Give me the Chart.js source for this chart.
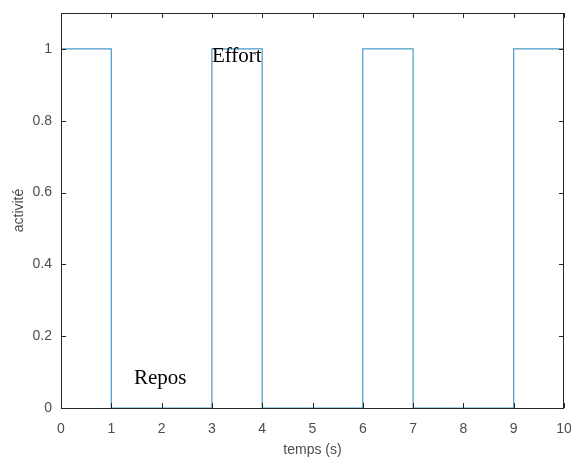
<!DOCTYPE html>
<html>
<head>
<meta charset="utf-8">
<script src="https://cdn.jsdelivr.net/npm/chart.js@4/dist/chart.umd.min.js"></script>
<style>
  html, body { margin: 0; padding: 0; background: #fff; }
  #wrap { width: 571px; height: 457px; }
</style>
</head>
<body>
<div id="wrap"><canvas id="chart" width="571" height="457"></canvas></div>
<script>
// step signal: value holds from each time until the next one
const stepTimes = [0, 1, 3, 4, 6, 7, 9, 10];
const stepValues = [1, 0, 1, 0, 1, 0, 1, 1];
const xTicks = [0, 1, 2, 3, 4, 5, 6, 7, 8, 9, 10];
const yTicks = [0, 0.2, 0.4, 0.6, 0.8, 1];
// text labels placed in data coordinates
const noteTexts = ['Effort', 'Repos'];
const noteX = [3, 1.45];
const noteY = [0.98, 0.083];

const axisColor = '#262626';
const labelColor = '#4d4d4d';

// box round the plot, inward ticks and the text notes
const matlabAxes = {
  id: 'matlabAxes',
  afterDatasetsDraw(chart) {
    const { ctx, chartArea: a, scales } = chart;
    ctx.save();
    ctx.strokeStyle = axisColor;
    ctx.lineWidth = 1;
    ctx.strokeRect(a.left + 0.5, a.top + 0.5, a.right - a.left - 1, a.bottom - a.top);
    ctx.beginPath();
    xTicks.forEach(v => {
      const px = Math.round(scales.x.getPixelForValue(v)) + 0.5;
      ctx.moveTo(px, a.bottom); ctx.lineTo(px, a.bottom - 5);
      ctx.moveTo(px, a.top); ctx.lineTo(px, a.top + 5);
    });
    yTicks.forEach(v => {
      const py = Math.round(scales.y.getPixelForValue(v)) + 0.5;
      ctx.moveTo(a.left, py); ctx.lineTo(a.left + 5, py);
      ctx.moveTo(a.right, py); ctx.lineTo(a.right - 5, py);
    });
    ctx.stroke();

    ctx.fillStyle = '#000';
    ctx.font = '21px "Liberation Serif", "Times New Roman", serif';
    ctx.textAlign = 'left';
    ctx.textBaseline = 'middle';
    noteTexts.forEach((t, i) => {
      ctx.fillText(t, scales.x.getPixelForValue(noteX[i]), scales.y.getPixelForValue(noteY[i]));
    });
    ctx.restore();
  }
};

new Chart(document.getElementById('chart'), {
  type: 'line',
  data: {
    datasets: [{
      data: stepTimes.map((t, i) => ({ x: t, y: stepValues[i] })),
      stepped: 'before',
      borderColor: '#4a9bc9',
      borderWidth: 1.2,
      pointRadius: 0,
      fill: false
    }]
  },
  options: {
    responsive: false,
    animation: false,
    layout: { padding: { top: 13, right: 7, left: 0, bottom: 0 } },
    plugins: { legend: { display: false }, tooltip: { enabled: false } },
    scales: {
      x: {
        type: 'linear',
        min: 0,
        max: 10,
        afterBuildTicks: s => { s.ticks = xTicks.map(v => ({ value: v })); },
        afterFit: s => { s.height = 49; s.paddingLeft = 0; s.paddingRight = 0; },
        grid: { display: false, drawTicks: false },
        border: { display: false },
        ticks: {
          color: labelColor,
          padding: 13,
          maxRotation: 0,
          autoSkip: false,
          font: { family: '"Liberation Sans", Arial, sans-serif', size: 14 },
          callback: v => String(v)
        },
        title: {
          display: true,
          text: 'temps (s)',
          color: labelColor,
          padding: { top: 0, bottom: -2 },
          font: { family: '"Liberation Sans", Arial, sans-serif', size: 14 }
        }
      },
      y: {
        min: 0,
        max: 1.1,
        afterBuildTicks: s => { s.ticks = yTicks.map(v => ({ value: v })); },
        afterFit: s => { s.width = 61; s.paddingTop = 0; s.paddingBottom = 0; },
        grid: { display: false, drawTicks: false },
        border: { display: false },
        ticks: {
          color: labelColor,
          padding: 9,
          autoSkip: false,
          font: { family: '"Liberation Sans", Arial, sans-serif', size: 14 },
          callback: v => String(v)
        },
        title: {
          display: true,
          text: 'activité',
          color: labelColor,
          padding: { top: 11, bottom: 0 },
          font: { family: '"Liberation Sans", Arial, sans-serif', size: 14 }
        }
      }
    }
  },
  plugins: [matlabAxes]
});
</script>
</body>
</html>
